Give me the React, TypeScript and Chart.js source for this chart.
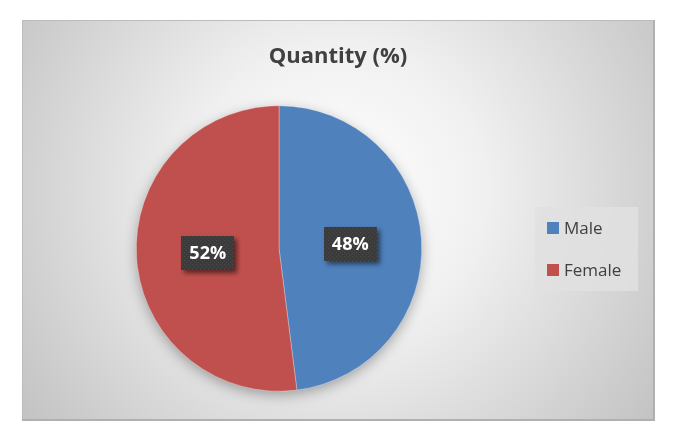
import React, { useEffect, useRef } from "react";
import { Chart, registerables } from "chart.js";

Chart.register(...registerables);

const TITLE = "Quantity (%)";
const LABELS = ["Male", "Female"];
const VALUES = [48, 52];
const COLORS = ["#4F81BD", "#C0504D"];

const FONT = "'Open Sans', 'Liberation Sans', sans-serif";

function makePattern(ctx: CanvasRenderingContext2D) {
  const c = document.createElement("canvas");
  c.width = 4;
  c.height = 4;
  const p = c.getContext("2d")!;
  p.fillStyle = "#3b3b3b";
  p.fillRect(0, 0, 4, 4);
  p.fillStyle = "#4a4a4a";
  p.fillRect(0, 0, 1, 1);
  p.fillRect(2, 2, 1, 1);
  return ctx.createPattern(c, "repeat") || "#3b3b3b";
}

const framePlugin = {
  id: "frame",
  beforeDraw(chart: any) {
    const ctx = chart.ctx as CanvasRenderingContext2D;
    ctx.save();
    ctx.fillStyle = "#ffffff";
    ctx.fillRect(0, 0, chart.width, chart.height);
    const x = 22, y = 20, w = 633, h = 401;
    const g = ctx.createRadialGradient(339, 190, 0, 339, 190, 420);
    g.addColorStop(0, "#ffffff");
    g.addColorStop(0.35, "#f0f0f0");
    g.addColorStop(1, "#bdbdbd");
    ctx.fillStyle = g;
    ctx.fillRect(x, y, w, h);
    ctx.strokeStyle = "#bcbcbc";
    ctx.lineWidth = 1;
    ctx.strokeRect(x + 0.5, y + 0.5, w - 1, h - 1);
    ctx.fillStyle = "#b0b0b0";
    ctx.fillRect(x, y + h - 2, w, 2);
    ctx.fillRect(x + w - 2, y, 2, h);
    ctx.restore();
  },
  beforeDatasetsDraw(chart: any) {
    const meta = chart.getDatasetMeta(0);
    const arc = meta.data[0];
    if (!arc) return;
    const ctx = chart.ctx as CanvasRenderingContext2D;
    ctx.save();
    ctx.shadowColor = "rgba(0,0,0,0.35)";
    ctx.shadowBlur = 14;
    ctx.shadowOffsetY = 4;
    ctx.fillStyle = "#999";
    ctx.beginPath();
    ctx.arc(arc.x, arc.y, arc.outerRadius - 1, 0, Math.PI * 2);
    ctx.fill();
    ctx.restore();
  },
  afterDraw(chart: any) {
    const ctx = chart.ctx as CanvasRenderingContext2D;
    ctx.save();
    // Title
    ctx.fillStyle = "#404040";
    ctx.font = `bold 22px ${FONT}`;
    ctx.textAlign = "center";
    ctx.textBaseline = "middle";
    ctx.fillText(TITLE, 338, 57);

    // Legend
    ctx.fillStyle = "rgba(225,225,225,0.85)";
    ctx.fillRect(535, 207, 103, 84);
    ctx.font = `17px ${FONT}`;
    ctx.textAlign = "left";
    LABELS.forEach((lab, i) => {
      const cy = 228 + i * 42;
      ctx.fillStyle = COLORS[i];
      ctx.fillRect(547, cy - 6, 12, 12);
      ctx.fillStyle = "#404040";
      ctx.fillText(lab, 564, cy + 1);
    });

    // Data labels
    const meta = chart.getDatasetMeta(0);
    const pat = makePattern(ctx);
    ctx.font = `bold 18px ${FONT}`;
    ctx.textAlign = "center";
    meta.data.forEach((arc: any, i: number) => {
      const p = arc.tooltipPosition();
      const total = VALUES.reduce((a, b) => a + b, 0);
      const txt = Math.round((VALUES[i] / total) * 100) + "%";
      const bw = 53, bh = 34;
      ctx.save();
      ctx.shadowColor = "rgba(0,0,0,0.55)";
      ctx.shadowBlur = 5;
      ctx.shadowOffsetX = 3;
      ctx.shadowOffsetY = 3;
      ctx.fillStyle = pat as any;
      ctx.fillRect(Math.round(p.x - bw / 2), Math.round(p.y - bh / 2), bw, bh);
      ctx.restore();
      ctx.fillStyle = "#ffffff";
      ctx.fillText(txt, p.x, p.y + 1);
    });
    ctx.restore();
  },
};

export default function App() {
  const ref = useRef<HTMLCanvasElement>(null);
  useEffect(() => {
    if (!ref.current) return;
    const chart = new Chart(ref.current, {
      type: "pie",
      data: {
        labels: LABELS,
        datasets: [
          {
            data: VALUES,
            backgroundColor: COLORS,
            borderColor: "rgba(255,255,255,0.6)",
            borderWidth: 0.5,
          },
        ],
      },
      options: {
        responsive: false,
        maintainAspectRatio: false,
        animation: false,
        layout: { padding: { left: 136, right: 251, top: 105, bottom: 44 } },
        plugins: {
          legend: { display: false },
          title: { display: false },
          tooltip: { enabled: false },
        },
      },
      plugins: [framePlugin],
    });
    return () => chart.destroy();
  }, []);
  return (
    <div style={{ position: "absolute", left: 0, top: 0, width: 673, height: 436 }}>
      <canvas ref={ref} width={673} height={436} style={{ display: "block" }} />
    </div>
  );
}
